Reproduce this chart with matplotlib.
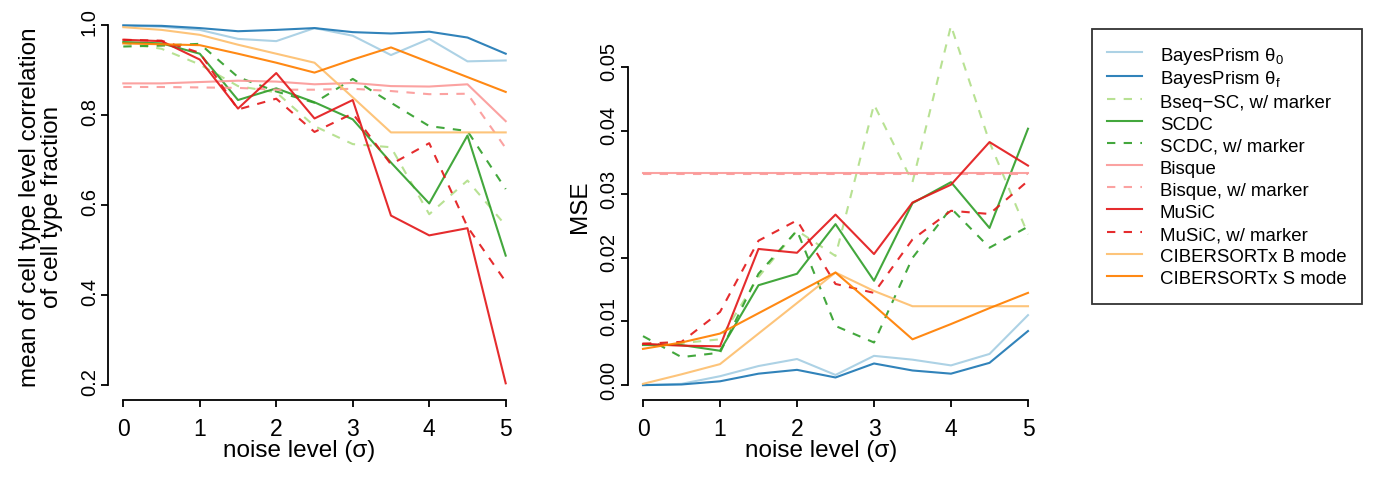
import matplotlib
matplotlib.use("Agg")
import matplotlib.pyplot as plt
import matplotlib.transforms as mtransforms

plt.rcParams['font.family'] = ['Liberation Sans', 'DejaVu Sans']
plt.rcParams['mathtext.fontset'] = 'custom'
plt.rcParams['mathtext.rm'] = 'Liberation Sans'
plt.rcParams['mathtext.default'] = 'regular'

# noise levels
noise = [0, 0.5, 1, 1.5, 2, 2.5, 3, 3.5, 4, 4.5, 5]

# left panel: mean correlation of cell type fraction
cor_bp0 = [1.0, 0.997, 0.99, 0.97, 0.965, 0.994, 0.977, 0.934, 0.97, 0.92, 0.922]
cor_bpf = [1.0, 0.999, 0.994, 0.987, 0.99, 0.994, 0.985, 0.982, 0.986, 0.973, 0.937]
cor_bseq_m = [0.961, 0.948, 0.913, 0.865, 0.851, 0.776, 0.736, 0.729, 0.58, 0.655, 0.555]
cor_scdc = [0.963, 0.96, 0.937, 0.834, 0.86, 0.829, 0.791, 0.695, 0.604, 0.755, 0.488]
cor_scdc_m = [0.953, 0.955, 0.959, 0.885, 0.853, 0.828, 0.881, 0.828, 0.776, 0.765, 0.636]
cor_bisque = [0.871, 0.871, 0.874, 0.877, 0.875, 0.869, 0.872, 0.865, 0.864, 0.869, 0.787]
cor_bisque_m = [0.863, 0.863, 0.862, 0.861, 0.857, 0.857, 0.859, 0.854, 0.847, 0.848, 0.727]
cor_music = [0.968, 0.965, 0.924, 0.815, 0.894, 0.793, 0.834, 0.577, 0.533, 0.549, 0.204]
cor_music_m = [0.968, 0.966, 0.939, 0.813, 0.837, 0.763, 0.804, 0.691, 0.738, 0.552, 0.43]
cor_cibb = [0.996, 0.99, 0.979, 0.957, 0.937, 0.917, 0.84, 0.762, 0.762, 0.762, 0.762]
cor_cibs = [0.96, 0.958, 0.956, 0.937, 0.917, 0.895, 0.924, 0.951, 0.918, 0.885, 0.852]

# right panel: MSE
mse_bp0 = [0.0, 0.0002, 0.0014, 0.003, 0.0041, 0.0016, 0.0046, 0.004, 0.0031, 0.0049, 0.011]
mse_bpf = [0.0, 0.0001, 0.0006, 0.0018, 0.0024, 0.0012, 0.0034, 0.0023, 0.0018, 0.0035, 0.0085]
mse_bseq_m = [0.0065, 0.0066, 0.0072, 0.017, 0.0243, 0.0203, 0.0441, 0.0319, 0.0565, 0.0382, 0.0237]
mse_scdc = [0.0063, 0.0063, 0.0054, 0.0157, 0.0175, 0.0253, 0.0164, 0.0286, 0.0319, 0.0247, 0.0403]
mse_scdc_m = [0.0077, 0.0044, 0.0051, 0.0175, 0.0243, 0.0093, 0.0067, 0.02, 0.0278, 0.0216, 0.0249]
mse_bisque = [0.0333, 0.0333, 0.0333, 0.0333, 0.0333, 0.0333, 0.0333, 0.0333, 0.0333, 0.0333, 0.0333]
mse_bisque_m = [0.0332, 0.0332, 0.0332, 0.0332, 0.0332, 0.0332, 0.0332, 0.0332, 0.0332, 0.0332, 0.0332]
mse_music = [0.0065, 0.0062, 0.0061, 0.0214, 0.0208, 0.0268, 0.0206, 0.0287, 0.0315, 0.0382, 0.0345]
mse_music_m = [0.0065, 0.0068, 0.0115, 0.0227, 0.0259, 0.0159, 0.0145, 0.0229, 0.0274, 0.0269, 0.0321]
mse_cibb = [0.0002, 0.0017, 0.0033, 0.0081, 0.0129, 0.0177, 0.0148, 0.0124, 0.0124, 0.0124, 0.0124]
mse_cibs = [0.0057, 0.0067, 0.0081, 0.0113, 0.0145, 0.0177, 0.0125, 0.0072, 0.0096, 0.0121, 0.0145]

labels = ['BayesPrism θ$_0$', 'BayesPrism θ$_f$', 'Bseq\u2212SC, w/ marker', 'SCDC',
          'SCDC, w/ marker', 'Bisque', 'Bisque, w/ marker', 'MuSiC', 'MuSiC, w/ marker',
          'CIBERSORTx B mode', 'CIBERSORTx S mode']
colors = ['#A6CEE3', '#1F78B4', '#B2DF8A', '#33A02C', '#33A02C', '#FB9A99', '#FB9A99',
          '#E31A1C', '#E31A1C', '#FDBF6F', '#FF7F00']
dashed = [False, False, True, False, True, False, True, False, True, False, False]

cor = [cor_bp0, cor_bpf, cor_bseq_m, cor_scdc, cor_scdc_m, cor_bisque, cor_bisque_m,
       cor_music, cor_music_m, cor_cibb, cor_cibs]
mse = [mse_bp0, mse_bpf, mse_bseq_m, mse_scdc, mse_scdc_m, mse_bisque, mse_bisque_m,
       mse_music, mse_music_m, mse_cibb, mse_cibs]

W, H = 1373, 478
fig = plt.figure(figsize=(W / 100, H / 100), dpi=100)

# axes placed in pixels (left, top, right, bottom)
def px_axes(l, t, r, b):
    return fig.add_axes([l / W, 1 - b / H, (r - l) / W, (b - t) / H])

ax1 = px_axes(108, 11, 521, 399.5)
ax2 = px_axes(627.6, 11, 1043.4, 399.5)

handles = []
for i in range(len(labels)):
    ls = (0, (4, 4)) if dashed[i] else '-'
    h, = ax1.plot(noise, cor[i], color=colors[i], lw=1.5, ls=ls, alpha=0.92, label=labels[i])
    ax2.plot(noise, mse[i], color=colors[i], lw=1.5, ls=ls, alpha=0.92)
    handles.append(h)

lab_fs = 17.5
for ax in (ax1, ax2):
    ax.set_xlim(-0.2, 5.2)
    ax.set_xticks([0, 1, 2, 3, 4, 5])
    for s in ('top', 'right'):
        ax.spines[s].set_visible(False)
    ax.spines['bottom'].set_bounds(0, 5)
    ax.spines['left'].set_linewidth(1.3)
    ax.spines['bottom'].set_linewidth(1.3)
    ax.tick_params(axis='both', direction='out', length=5, width=1.3)
    ax.tick_params(axis='x', pad=8, labelsize=16.5)
    ax.tick_params(axis='y', pad=1.5, labelsize=14.5)

ax1.set_ylim(0.168, 1.032)
ax1.set_yticks([0.2, 0.4, 0.6, 0.8, 1.0])
ax1.set_yticklabels(['0.2', '0.4', '0.6', '0.8', '1.0'], rotation=90, va='center')
ax1.spines['left'].set_bounds(0.2, 1.0)

ax2.set_ylim(-0.00226, 0.0588)
ax2.set_yticks([0, 0.01, 0.02, 0.03, 0.04, 0.05])
ax2.set_yticklabels(['0.00', '0.01', '0.02', '0.03', '0.04', '0.05'], rotation=90, va='center')
ax2.spines['left'].set_bounds(0, 0.05)

# R draws the rotated tick labels a little above the tick
for ax, dy in ((ax1, 3), (ax2, 5)):
    off = mtransforms.ScaledTranslation(0, dy / 100, fig.dpi_scale_trans)
    for t in ax.get_yticklabels():
        t.set_transform(t.get_transform() + off)

# axis titles placed in pixels
fig.text(41 / W, 1 - 207 / H, 'mean of cell type level correlation\nof cell type fraction',
         rotation=90, ha='center', va='center', fontsize=lab_fs, linespacing=1.0)
fig.text(580 / W, 1 - 207 / H, 'MSE', rotation=90, ha='center', va='center', fontsize=lab_fs)
fig.text(299 / W, 1 - 451 / H, 'noise level (σ)', ha='center', va='center', fontsize=lab_fs)
fig.text(821 / W, 1 - 451 / H, 'noise level (σ)', ha='center', va='center', fontsize=lab_fs)

leg = fig.legend(handles=handles, loc='upper left', bbox_to_anchor=(1092 / W, 1 - 29 / H),
                 fontsize=13.4, frameon=True, fancybox=False, edgecolor='black',
                 handlelength=1.9, handleheight=1.45, handletextpad=0.95, labelspacing=0.0,
                 borderpad=0.8, borderaxespad=0)
leg.get_frame().set_linewidth(1.3)

fig.savefig('out.png', dpi=100)
